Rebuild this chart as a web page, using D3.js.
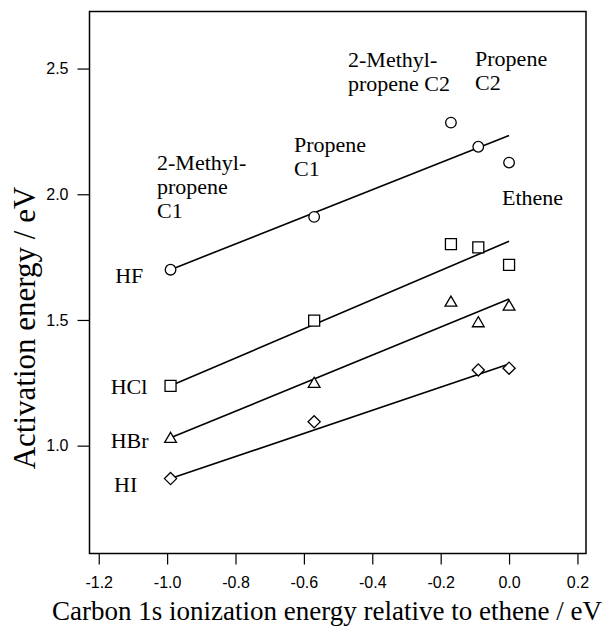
<!DOCTYPE html>
<html>
<head>
<meta charset="utf-8">
<script src="https://cdn.jsdelivr.net/npm/d3@7"></script>
<style>
  body { margin: 0; background: #fff; }
  .serif { font-family: "Liberation Serif", "Times New Roman", serif; fill: #000; }
  .tick text { font-family: "Liberation Sans", Arial, sans-serif; font-size: 16px; fill: #000; }
  .tick line { stroke: #000; stroke-width: 1.2; }
</style>
</head>
<body>
<div id="chart"></div>
<script>
// Datos
const ionization = [-0.99, -0.57, -0.17, -0.09, 0.0];
const hf  = [1.70, 1.91, 2.285, 2.189, 2.126];
const hcl = [1.238, 1.497, 1.802, 1.789, 1.719];
const hbr = [1.031, 1.25, 1.573, 1.491, 1.557];
const hi  = [0.869, 1.095, null, 1.301, 1.308];

// Rectas de ajuste: [x inicio, x fin] y valores
const fitX = [-0.99, 0.0];
const fitHF  = [1.70, 2.234];
const fitHCl = [1.238, 1.813];
const fitHBr = [1.031, 1.583];
const fitHI  = [0.869, 1.325];

const xTicks = [-1.2, -1.0, -0.8, -0.6, -0.4, -0.2, 0.0, 0.2];
const yTicks = [1.0, 1.5, 2.0, 2.5];

// Etiquetas de moléculas (en coordenadas de datos)
const siteLabels = [
  { x: -1.0295, y: 2.097, lines: ["2-Methyl-", "propene", "C1"] },
  { x: -0.629, y: 2.168, lines: ["Propene", "C1"] },
  { x: -0.471, y: 2.506, lines: ["2-Methyl-", "propene C2"] },
  { x: -0.0994, y: 2.51, lines: ["Propene", "C2"] },
  { x: -0.0205, y: 1.957, lines: ["Ethene"] }
];
const seriesNames = ["HF", "HCl", "HBr", "HI"];
const seriesLabelPos = [[-1.152, 1.647], [-1.165, 1.206], [-1.165, 0.991], [-1.155, 0.816]];

const width = 605, height = 626;
const plot = { left: 89.5, right: 586, top: 11.5, bottom: 553.5 };

const svg = d3.select("#chart").append("svg")
    .attr("width", width)
    .attr("height", height);

const x = d3.scaleLinear().domain([-1.227, 0.225]).range([plot.left, plot.right]);
const y = d3.scaleLinear().domain([0.571, 2.727]).range([plot.bottom, plot.top]);

// Símbolos con contorno
const circle = { draw(ctx, s) { const r = s; ctx.moveTo(r, 0); ctx.arc(0, 0, r, 0, 2 * Math.PI); } };
const square = { draw(ctx, s) { ctx.rect(-s, -s, 2 * s, 2 * s); } };
const triangle = { draw(ctx, s) {
  const h = s * 1.8;
  ctx.moveTo(0, -h * 0.55); ctx.lineTo(s * 1.05, h * 0.45); ctx.lineTo(-s * 1.05, h * 0.45); ctx.closePath();
} };
const diamond = { draw(ctx, s) { const r = s * 1.15; ctx.moveTo(0, -r); ctx.lineTo(r, 0); ctx.lineTo(0, r); ctx.lineTo(-r, 0); ctx.closePath(); } };

const series = [
  { vals: hf, fit: fitHF, sym: circle, size: 5.3 },
  { vals: hcl, fit: fitHCl, sym: square, size: 5.5 },
  { vals: hbr, fit: fitHBr, sym: triangle, size: 5.6 },
  { vals: hi, fit: fitHI, sym: diamond, size: 5.3 }
];

// Ejes
svg.append("g")
    .attr("transform", `translate(0,${plot.bottom})`)
    .call(d3.axisBottom(x).tickValues(xTicks).tickFormat(d => d.toFixed(1))
      .tickSize(11).tickPadding(12).tickSizeOuter(0))
    .call(g => g.select(".domain").remove());

svg.append("g")
    .attr("transform", `translate(${plot.left},0)`)
    .call(d3.axisLeft(y).tickValues(yTicks).tickFormat(d => d.toFixed(1))
      .tickSize(12).tickPadding(9).tickSizeOuter(0))
    .call(g => g.select(".domain").remove());

// Marco
svg.append("rect")
    .attr("x", plot.left).attr("y", plot.top)
    .attr("width", plot.right - plot.left).attr("height", plot.bottom - plot.top)
    .attr("fill", "none").attr("stroke", "#000").attr("stroke-width", 1.5);

// Rectas de ajuste
const line = d3.line().x(d => x(d[0])).y(d => y(d[1]));
series.forEach(s => {
  svg.append("path")
      .attr("d", line(fitX.map((v, i) => [v, s.fit[i]])))
      .attr("fill", "none").attr("stroke", "#000").attr("stroke-width", 1.6);
});

// Puntos
series.forEach(s => {
  const pts = ionization.map((v, i) => [v, s.vals[i]]).filter(d => d[1] != null);
  svg.append("g").selectAll("path").data(pts).enter().append("path")
      .attr("transform", d => `translate(${x(d[0])},${y(d[1])})`)
      .attr("d", d3.symbol().type(s.sym).size(s.size))
      .attr("fill", "#fff").attr("stroke", "#000").attr("stroke-width", 1.3);
});

// Etiquetas
siteLabels.forEach(l => {
  const t = svg.append("text").attr("class", "serif")
      .attr("x", x(l.x)).attr("y", y(l.y)).style("font-size", "22px");
  l.lines.forEach((txt, i) => {
    t.append("tspan").attr("x", x(l.x)).attr("dy", i === 0 ? 0 : 24).text(txt);
  });
});

seriesNames.forEach((n, i) => {
  svg.append("text").attr("class", "serif")
      .attr("x", x(seriesLabelPos[i][0])).attr("y", y(seriesLabelPos[i][1]))
      .style("font-size", "22px").text(n);
});

// Títulos de ejes
svg.append("text").attr("class", "serif")
    .attr("x", 327).attr("y", 620)
    .attr("text-anchor", "middle")
    .style("font-size", "27px")
    .text("Carbon 1s ionization energy relative to ethene / eV");

svg.append("text").attr("class", "serif")
    .attr("transform", "translate(35,328) rotate(-90)")
    .attr("text-anchor", "middle")
    .style("font-size", "31px")
    .text("Activation energy / eV");
</script>
</body>
</html>
